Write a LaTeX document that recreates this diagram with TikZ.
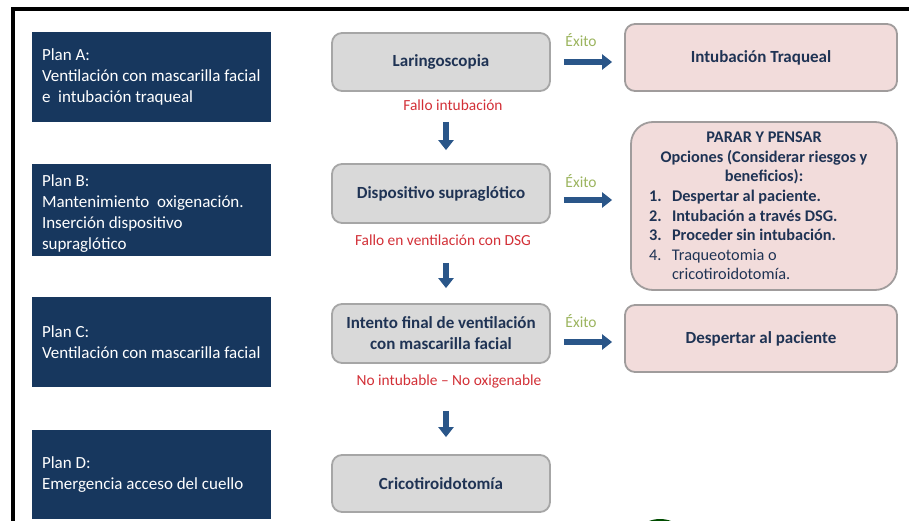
\documentclass[tikz,border=0pt]{standalone}
\usepackage{fontspec}
\setmainfont{Carlito}
\usetikzlibrary{arrows.meta}
\definecolor{navy}{HTML}{17375E}
\definecolor{grayfill}{HTML}{D9D9D9}
\definecolor{grayline}{HTML}{A6A6A6}
\definecolor{pinkfill}{HTML}{F2DCDB}
\definecolor{pinkline}{HTML}{A09C9C}
\definecolor{boxtext}{HTML}{1F3354}
\definecolor{failred}{HTML}{D22F36}
\definecolor{okgreen}{HTML}{9BB45E}
\definecolor{arrowblue}{HTML}{2A5689}
\tikzset{
  planbox/.style={fill=navy, draw=none, minimum width=239pt, inner sep=0pt},
  plantext/.style={text=white, align=left, inner sep=0pt, font=\fontsize{17}{21}\selectfont},
  graybox/.style={fill=grayfill, draw=grayline, line width=1.8pt, rounded corners=10pt,
    minimum width=218pt, inner sep=2pt, align=center, text=boxtext,
    font=\fontsize{17}{21}\selectfont\bfseries},
  pinkbox/.style={fill=pinkfill, draw=pinkline, line width=1.8pt, rounded corners=10pt,
    minimum width=272pt, minimum height=67pt, inner sep=2pt, align=center, text=boxtext,
    font=\fontsize{17}{21}\selectfont\bfseries},
  faillabel/.style={text=failred, inner sep=1pt, font=\fontsize{15.4}{18}\selectfont},
  oklabel/.style={text=okgreen, inner sep=1pt, font=\fontsize{15.5}{18}\selectfont},
  bigarrow/.style={draw=arrowblue, line width=6pt, -{Triangle[length=10pt,width=15pt]}},
}
\begin{document}
\begin{tikzpicture}[x=1pt,y=-1pt]
\useasboundingbox (0,0) rectangle (909,521);
% frame
\draw[line width=4pt] (13,521) -- (13,9) -- (909,9);
% partial object at bottom
\begin{scope}
\clip (0,0) rectangle (909,521);
\fill[green!30!black] (660,534) ellipse (22pt and 15pt);
\end{scope}
% plan boxes
\node[planbox, minimum height=90pt] (pA) at (151.5,77) {};
\node[plantext, anchor=west] (pAt) at ([xshift=10pt]pA.west) {Plan A:\\Ventilación con mascarilla facial\\e\ \ intubación traqueal};
\node[planbox, minimum height=92pt] (pB) at (151.5,210) {};
\node[plantext, anchor=west] (pBt) at ([shift={(10pt,-4pt)}]pB.west) {Plan B:\\Mantenimiento\ \ oxigenación.\\Inserción dispositivo\\supraglótico};
\node[planbox, minimum height=90pt] (pC) at (151.5,342) {};
\node[plantext, anchor=west] (pCt) at ([xshift=10pt]pC.west) {Plan C:\\Ventilación con mascarilla facial};
\node[planbox, minimum height=89pt] (pD) at (151.5,474.5) {};
\node[plantext, anchor=west] (pDt) at ([xshift=10pt]pD.west) {Plan D:\\Emergencia acceso del cuello};
% gray boxes
\node[graybox, minimum height=58pt] (lar) at (441,62) {Laringoscopia};
\node[graybox, minimum height=59pt] (dsg) at (441,193.5) {Dispositivo supraglótico};
\node[graybox, minimum height=59pt] (fin) at (441,333.5) {Intento final de ventilación\\con mascarilla facial};
\node[graybox, minimum height=57pt] (cri) at (441,483.5) {Cricotiroidotomía};
% failure labels
\node[faillabel] (f1) at (453,105) {Fallo intubación};
\node[faillabel] (f2) at (443,240) {Fallo en ventilación con DSG};
\node[faillabel] (f3) at (449,381) {No intubable – No oxigenable};
% pink boxes
\node[pinkbox] (itq) at (761,57.5) {Intubación Traqueal};
\node[pinkbox, minimum width=266pt, minimum height=168pt, rounded corners=22pt, font=\fontsize{16.3}{19.6}\selectfont] (ppn) at (764,206) {%
\begin{minipage}{262pt}\centering\bfseries PARAR Y PENSAR\\Opciones (Considerar riesgos y\\beneficios):\par
\raggedright
\hspace*{16pt}\makebox[23pt][l]{1.}Despertar al paciente.\\
\hspace*{16pt}\makebox[23pt][l]{2.}Intubación a través DSG.\\
\hspace*{16pt}\makebox[23pt][l]{3.}Proceder sin intubación.\\
\mdseries\hspace*{16pt}\makebox[23pt][l]{4.}Traqueotomia o\\
\hspace*{39pt}cricotiroidotomía.
\end{minipage}};
\node[pinkbox] (dap) at (761,338.5) {Despertar al paciente};
% success labels
\node[oklabel] (e1) at (581,40) {Éxito};
\node[oklabel] (e2) at (581,181) {Éxito};
\node[oklabel] (e3) at (581,321) {Éxito};
% right arrows
\draw[bigarrow, shorten <=13pt, shorten >=12pt] (lar.east) -- (lar.east -| itq.west);
\draw[bigarrow] ([shift={(13pt,-6.5pt)}]dsg.east) -- ([shift={(-18pt,-6.5pt)}]dsg.east -| ppn.west);
\draw[bigarrow] ([shift={(13pt,-8.5pt)}]fin.east) -- ([shift={(-12pt,-8.5pt)}]fin.east -| dap.west);
% down arrows
\draw[bigarrow, shorten <=30pt, shorten >=13pt] ([xshift=5pt]lar.south) -- ([xshift=5pt]dsg.north);
\draw[bigarrow, shorten <=39pt, shorten >=15pt] ([xshift=5pt]dsg.south) -- ([xshift=5pt]fin.north);
\draw[bigarrow, shorten <=47pt, shorten >=17pt] ([xshift=5pt]fin.south) -- ([xshift=5pt]cri.north);
\end{tikzpicture}
\end{document}
